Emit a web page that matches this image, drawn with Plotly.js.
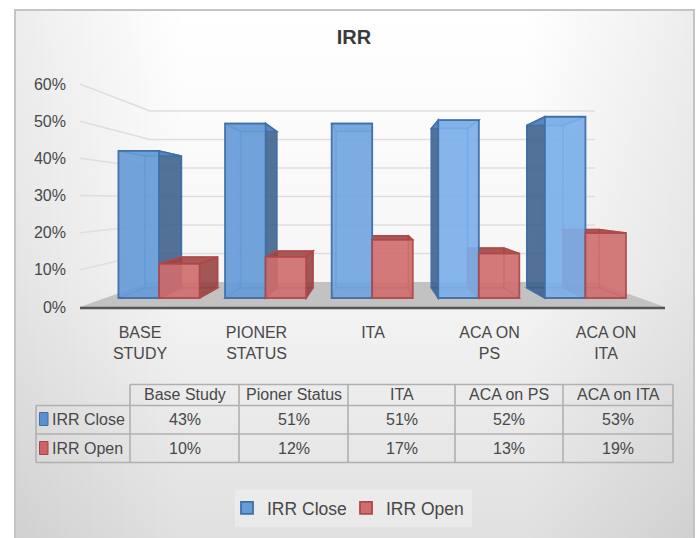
<!DOCTYPE html>
<html><head><meta charset="utf-8">
<script src="https://cdn.plot.ly/plotly-3.0.1.min.js"></script>
<style>html,body{margin:0;padding:0;background:#fff}</style></head>
<body><div id="chart" style="width:699px;height:538px"></div>
<script>
var categories = ['Base Study','Pioner Status','ITA','ACA on PS','ACA on ITA'];
var axisLabels = ['BASE<br>STUDY','PIONER<br>STATUS','ITA','ACA ON<br>PS','ACA ON<br>ITA'];
var irrClose = [43,51,51,52,53];
var irrOpen = [10,12,17,13,19];
var yTicks = [0,10,20,30,40,50,60];
var closeFill = ['#669cd8','#669cd8','#72a6e0','#7cb0ea','#7cb0ea'];
var openFill = '#d06e6e';

var L=80,R=665,T=84,B=307,W=699,H=538;
function fx(p){return (p-L)/(R-L);}
function fy(p){return (B-p)/(B-T);}
var shapes=[], annotations=[];

// floor and wall grid (perspective projection of the value axis)
shapes.push({type:'path',xref:'paper',yref:'paper',layer:'below',line:{width:0},fillcolor:'#c2c2c2',
  path:'M'+fx(80)+','+fy(307)+'L'+fx(665)+','+fy(307)+'L'+fx(595)+','+fy(282)+'L'+fx(150)+','+fy(282)+'Z'});
yTicks.forEach(function(v){
  if(v===0) return;
  var fp=B-v*(B-T)/60, wp=282-v*2.85;
  shapes.push({type:'path',xref:'paper',yref:'paper',layer:'below',line:{color:'#dedede',width:1.5},
    path:'M'+fx(80)+','+fy(fp)+'L'+fx(150)+','+fy(wp)+'L'+fx(595)+','+fy(wp)});
});
shapes.push({type:'line',xref:'paper',yref:'paper',layer:'below',x0:fx(80),x1:fx(665),y0:fy(308),y1:fy(308),line:{color:'#565656',width:2.5}});
// legend panel
shapes.push({type:'rect',xref:'paper',yref:'paper',layer:'below',x0:fx(235),x1:fx(472),y0:fy(490),y1:fy(527),fillcolor:'rgba(255,255,255,0.28)',line:{width:0}});

// 3D box faces, projected from each bar's front rectangle
var groupW=0.76, barW=groupW/2, K=0.895, VU=2, VV=28.65;
function bu(u){return VU+(u-VU)*K;}
function bv(v){return VV+(v-VV)*K;}
function poly(pts){return 'M'+pts.map(function(p){return p[0]+','+p[1];}).join('L')+'Z';}
function face(pts,fill,line){shapes.push({type:'path',xref:'x',yref:'y2',layer:'below',path:poly(pts),fillcolor:fill,line:{color:line,width:1.5}});}
function box(i,off,v,c){
  var u0=i+off,u1=u0+barW;
  face([[bu(u0),bv(0)],[bu(u1),bv(0)],[bu(u1),bv(v)],[bu(u0),bv(v)]],c.inner,c.line2);
  face([[u0,0],[u1,0],[bu(u1),bv(0)],[bu(u0),bv(0)]],c.inner,c.line2);
  var lp=[[u0,0],[bu(u0),bv(0)],[bu(u0),bv(v)],[u0,v]];
  var rp=[[u1,0],[bu(u1),bv(0)],[bu(u1),bv(v)],[u1,v]];
  face(lp,bu(u0)<u0?c.dark:c.inner,bu(u0)<u0?c.line:c.line2);
  face(rp,bu(u1)>u1?c.dark:c.inner,bu(u1)>u1?c.line:c.line2);
  face([[u0,v],[u1,v],[bu(u1),bv(v)],[bu(u0),bv(v)]],c.top,c.line);
}
var closeC={inner:'rgba(100,150,215,0.18)',dark:'rgba(52,88,130,0.82)',top:'rgba(100,150,215,0.5)',line:'#3f6fa8',line2:'rgba(63,111,168,0.5)'};
var openC={inner:'rgba(205,100,100,0.25)',dark:'rgba(145,60,60,0.82)',top:'rgba(160,65,65,0.85)',line:'#b04848',line2:'rgba(176,72,72,0.5)'};
irrClose.forEach(function(v,i){box(i,-barW,v,closeC);});
irrOpen.forEach(function(v,i){box(i,0,v,openC);});

// data table below the chart
var colX=[36,130,239,348,455,563,673], rowY=[384.5,405.5,434,462.5];
var gridC='#b0b0b0';
function hline(x0,x1,y){shapes.push({type:'line',xref:'paper',yref:'paper',layer:'above',x0:fx(x0),x1:fx(x1),y0:fy(y),y1:fy(y),line:{color:gridC,width:1.6}});}
function vline(x,y0,y1){shapes.push({type:'line',xref:'paper',yref:'paper',layer:'above',x0:fx(x),x1:fx(x),y0:fy(y0),y1:fy(y1),line:{color:gridC,width:1.6}});}
hline(colX[1],colX[6],rowY[0]);
hline(colX[0],colX[6],rowY[1]);hline(colX[0],colX[6],rowY[2]);hline(colX[0],colX[6],rowY[3]);
vline(colX[0],rowY[1],rowY[3]);
for(var c=1;c<colX.length;c++) vline(colX[c],rowY[0],rowY[3]);
function cell(txt,x,y,anchor){annotations.push({text:txt,xref:'paper',yref:'paper',x:fx(x),y:fy(y),xanchor:anchor||'center',yanchor:'middle',showarrow:false,font:{family:'Liberation Sans',size:16,color:'#484848'}});}
categories.forEach(function(n,i){
  var cx=(colX[i+1]+colX[i+2])/2;
  cell(n,cx,394);
  cell(irrClose[i]+'%',cx,419);
  cell(irrOpen[i]+'%',cx,448);
});
cell('IRR Close',50,419,'left');
cell('IRR Open',50,448,'left');
function key(y,fill,line){shapes.push({type:'rect',xref:'paper',yref:'paper',layer:'above',x0:fx(39.5),x1:fx(48),y0:fy(y-6.5),y1:fy(y+6.5),fillcolor:fill,line:{color:line,width:1}});}
key(419,'#5a8fd0','#3f6fa8');
key(448,'#cc6363','#a84444');

// panel background
var bg="<svg xmlns='http://www.w3.org/2000/svg' width='681' height='530'><defs>"+
 "<linearGradient id='v' x1='0' y1='0' x2='0' y2='1'><stop offset='0' stop-color='#ffffff'/><stop offset='0.5' stop-color='#f6f6f6'/><stop offset='1' stop-color='#e0e0e0'/></linearGradient>"+
 "<linearGradient id='h' x1='0' y1='0' x2='1' y2='0'><stop offset='0' stop-color='#000' stop-opacity='0.07'/><stop offset='0.25' stop-color='#000' stop-opacity='0'/><stop offset='0.75' stop-color='#000' stop-opacity='0'/><stop offset='1' stop-color='#000' stop-opacity='0.07'/></linearGradient></defs>"+
 "<rect width='681' height='530' fill='url(#v)'/><rect width='681' height='530' fill='url(#h)'/>"+
 "<path d='M1,530V1H680V530' fill='none' stroke='#c4c4c4' stroke-width='2'/></svg>";

var yFrontMax=(298-T)/3.42, yFrontMin=(298-B)/3.42;
var traces=[
 {type:'bar',name:'IRR Close',x:[0,1,2,3,4],y:irrClose,xaxis:'x',yaxis:'y2',marker:{color:closeFill,opacity:0.9,line:{color:'#3f6fa8',width:1.8}},hoverinfo:'skip'},
 {type:'bar',name:'IRR Open',x:[0,1,2,3,4],y:irrOpen,xaxis:'x',yaxis:'y2',marker:{color:openFill,opacity:0.88,line:{color:'#b04848',width:1.8}},hoverinfo:'skip'},
 {type:'scatter',mode:'none',x:[0,4],y:[0,60],xaxis:'x2',yaxis:'y',showlegend:false,hoverinfo:'skip'}
];
var layout={
 width:W,height:H,
 margin:{l:L,r:W-R,t:T,b:H-B,pad:0},
 paper_bgcolor:'#ffffff',plot_bgcolor:'rgba(0,0,0,0)',
 barmode:'group',bargap:0.24,bargroupgap:0,
 font:{family:'Liberation Sans',color:'#484848',size:16},
 title:{text:'<b>IRR</b>',x:354/W,xanchor:'center',y:1-37/H,yanchor:'middle',font:{family:'Liberation Sans',size:20,color:'#3a3a3a'}},
 xaxis:{type:'linear',range:[(L-159)/106.6,(R-159)/106.6],visible:false,fixedrange:true},
 xaxis2:{type:'linear',overlaying:'x',side:'bottom',anchor:'y',range:[(L-140)/116.5,(R-140)/116.5],tickmode:'array',tickvals:[0,1,2,3,4],ticktext:axisLabels,showgrid:false,zeroline:false,showline:false,ticks:'',ticklabelstandoff:14,tickangle:0,tickfont:{size:16,color:'#484848'},fixedrange:true},
 yaxis:{type:'linear',range:[0,60],tickmode:'array',tickvals:yTicks,ticktext:yTicks.map(function(v){return v+'%';}),showgrid:false,zeroline:false,showline:false,ticks:'',ticklabelstandoff:13,tickfont:{size:16,color:'#484848'},fixedrange:true,anchor:'x2'},
 yaxis2:{type:'linear',overlaying:'y',range:[yFrontMin,yFrontMax],visible:false,fixedrange:true,anchor:'x'},
 legend:{orientation:'h',x:fx(227),xanchor:'left',y:fy(508),yanchor:'middle',bgcolor:'rgba(0,0,0,0)',font:{size:17.5,color:'#484848'},itemwidth:30,entrywidth:74,entrywidthmode:'pixels',borderwidth:0,traceorder:'normal'},
 shapes:shapes,annotations:annotations,
 images:[{source:'data:image/svg+xml;utf8,'+encodeURIComponent(bg),xref:'paper',yref:'paper',x:fx(14),y:fy(9),sizex:681/(R-L),sizey:530/(B-T),sizing:'stretch',xanchor:'left',yanchor:'top',layer:'below'}]
};
Plotly.newPlot('chart',traces,layout,{displayModeBar:false,staticPlot:true});
</script></body></html>
